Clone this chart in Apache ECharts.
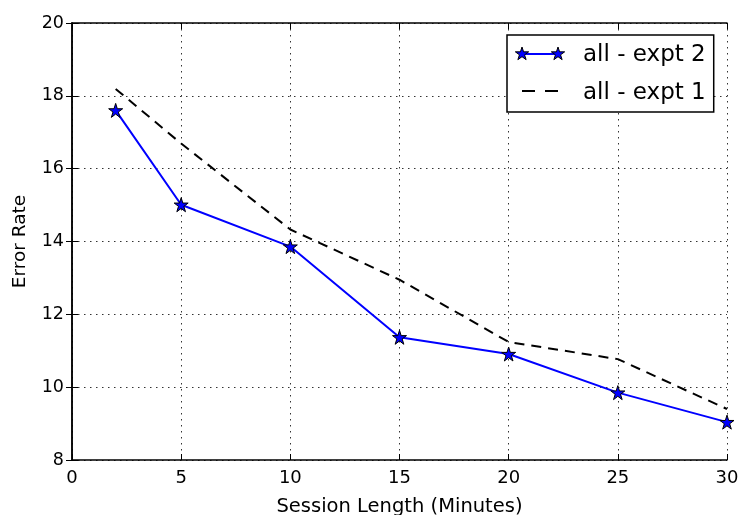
<!DOCTYPE html>
<html>
<head>
<meta charset="utf-8">
<script src="https://cdn.jsdelivr.net/npm/echarts@6/dist/echarts.min.js"></script>
<style>
  html, body { margin: 0; padding: 0; background: #fff; }
  #chart { width: 741px; height: 515px; }
</style>
</head>
<body>
<div id="chart"></div>
<script>
// Session length (minutes) on the x axis
const sessionLength = [2, 5, 10, 15, 20, 25, 30];
// Error rate, experiment 2 (blue, star markers)
const expt2Error = [17.6, 15.01, 13.86, 11.37, 10.91, 9.85, 9.04];
// Error rate, experiment 1 (black dashed)
const expt1Error = [18.19, 16.69, 14.33, 12.95, 11.24, 10.77, 9.4];

const seriesNames = ['all - expt 2', 'all - expt 1'];

const xTicks = { min: 0, max: 30, interval: 5 };
const yTicks = { min: 8, max: 20, interval: 2 };

const FONT = 'DejaVu Sans';
// five-pointed star outline on a 100x100 box
const STAR_PTS = [[50,0],[61.2,34.5],[97.6,34.5],[68.2,55.9],[79.4,90.5],[50,69.1],[20.6,90.5],[31.8,55.9],[2.4,34.5],[38.8,34.5]];
const STAR = 'path://M' + STAR_PTS.map(p => p.join(',')).join(' L') + ' Z';

const pairs = (xs, ys) => xs.map((x, i) => [x, ys[i]]);

const frameLine = { show: true, lineStyle: { color: '#000', width: 1.5 } };
const innerTick = { show: true, inside: true, length: 6, lineStyle: { color: '#000', width: 1 } };
const dotted = { show: true, lineStyle: { color: '#333', width: 1, type: [1.5, 4.5] } };

// legend box geometry
const LEG = { left: 507, top: 35, padLeft: 15, iconW: 36, row1: 54, row2: 91 };
const iconX0 = LEG.left + LEG.padLeft;
const iconX1 = iconX0 + LEG.iconW;

// legend sample glyphs: line with a star at each end, and a short dash pair
function legendSamples() {
  const star = (cx, cy) => ({
    type: 'polygon',
    shape: { points: STAR_PTS.map(p => [cx - 7 + p[0] * 0.14, cy - 7 + p[1] * 0.14]) },
    style: { fill: '#0000ff', stroke: '#000', lineWidth: 1 },
    z: 101
  });
  return [
    { type: 'line', shape: { x1: iconX0, y1: LEG.row1, x2: iconX1, y2: LEG.row1 },
      style: { stroke: '#0000ff', lineWidth: 2 }, z: 100 },
    star(iconX0, LEG.row1),
    star(iconX1, LEG.row1),
    { type: 'line', shape: { x1: iconX0, y1: LEG.row2, x2: iconX0 + 13, y2: LEG.row2 },
      style: { stroke: '#000', lineWidth: 2 }, z: 100 },
    { type: 'line', shape: { x1: iconX1 - 13, y1: LEG.row2, x2: iconX1, y2: LEG.row2 },
      style: { stroke: '#000', lineWidth: 2 }, z: 100 }
  ];
}

const chart = echarts.init(document.getElementById('chart'), null, { renderer: 'canvas' });
chart.setOption({
  backgroundColor: '#fff',
  animation: false,
  grid: { left: 72, right: 14, top: 23, bottom: 55, outerBoundsMode: 'none', containLabel: false },
  legend: {
    left: LEG.left,
    top: LEG.top,
    orient: 'vertical',
    backgroundColor: '#fff',
    borderColor: '#000',
    borderWidth: 1.5,
    borderRadius: 0,
    padding: [9, 8, 7, LEG.padLeft],
    itemGap: 15,
    itemWidth: LEG.iconW,
    itemHeight: 14,
    selectedMode: false,
    textStyle: { fontFamily: FONT, fontSize: 23, color: '#000', padding: [0, 0, 0, 19] },
    data: seriesNames.map(n => ({ name: n, icon: 'rect', itemStyle: { opacity: 0 } }))
  },
  graphic: legendSamples(),
  xAxis: [
    {
      type: 'value', min: xTicks.min, max: xTicks.max, interval: xTicks.interval,
      name: 'Session Length (Minutes)', nameLocation: 'middle', nameGap: 37,
      nameTextStyle: { fontFamily: FONT, fontSize: 19.5, color: '#000' },
      axisLine: frameLine, axisTick: innerTick, splitLine: dotted,
      axisLabel: { fontFamily: FONT, fontSize: 18, color: '#000', margin: 9 }
    },
    {
      type: 'value', position: 'top', min: xTicks.min, max: xTicks.max, interval: xTicks.interval,
      axisLine: frameLine, axisTick: innerTick, splitLine: { show: false },
      axisLabel: { show: false }
    }
  ],
  yAxis: [
    {
      type: 'value', min: yTicks.min, max: yTicks.max, interval: yTicks.interval,
      name: 'Error Rate', nameLocation: 'middle', nameGap: 42,
      nameTextStyle: { fontFamily: FONT, fontSize: 18.5, color: '#000' },
      axisLine: frameLine, axisTick: innerTick, splitLine: dotted,
      axisLabel: { fontFamily: FONT, fontSize: 17.5, color: '#000', margin: 8 }
    },
    {
      type: 'value', position: 'right', min: yTicks.min, max: yTicks.max, interval: yTicks.interval,
      axisLine: frameLine, axisTick: innerTick, splitLine: { show: false },
      axisLabel: { show: false }
    }
  ],
  series: [
    {
      name: seriesNames[0],
      type: 'line',
      data: pairs(sessionLength, expt2Error),
      symbol: STAR,
      symbolSize: 14,
      itemStyle: { color: '#0000ff', borderColor: '#000', borderWidth: 1 },
      lineStyle: { color: '#0000ff', width: 2 },
      z: 3
    },
    {
      name: seriesNames[1],
      type: 'line',
      data: pairs(sessionLength, expt1Error),
      symbol: 'none',
      itemStyle: { color: '#000' },
      lineStyle: { color: '#000', width: 2, type: [10, 7] },
      z: 2
    }
  ]
});
</script>
</body>
</html>
